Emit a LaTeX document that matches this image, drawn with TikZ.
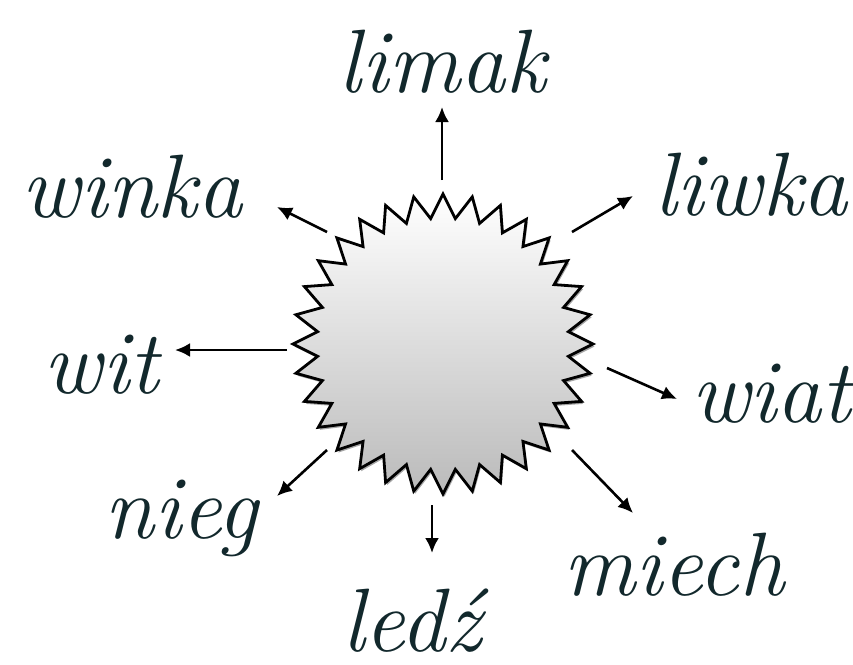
\documentclass[tikz,border=0pt]{standalone}
\usetikzlibrary{arrows.meta,shadows,calc}
\definecolor{ink}{RGB}{18,40,44}
\begin{document}
\begin{tikzpicture}[x=1pt,y=-1pt,
  word/.style={anchor=base,text=ink,inner sep=0pt,font=\fontsize{90}{90}\selectfont\itshape},
  arr/.style={line width=2.6pt,-{Latex[length=15pt,width=14pt]}},
  sunshape/.style={draw=black,line width=2.8pt,line join=miter,top color=white,bottom color=black!27,
    drop shadow={shadow xshift=1.5pt,shadow yshift=-2.5pt,opacity=0.35,fill=black}}]
\useasboundingbox (0,0) rectangle (853,664);
% starburst
\coordinate (c) at (443,344);
\path[sunshape] ($(c)+(90:150)$)
  \foreach \i in {1,...,63}{
    -- ($(c)+({90+\i*5.625}:{150-24*mod(\i,2)})$)
  } -- cycle;
% words
\node[word] (limak) at (442,92) {limak};
\node[word] (liwka) at (751,215) {liwka};
\node[word] (winka) at (132,217) {winka};
\node[word] (wit) at (101,393) {wit};
\node[word] (wiat) at (771,422) {wiat};
\node[word] (nieg) at (181,538) {nieg};
\node[word] (miech) at (674,595) {miech};
\node[word,text depth=0pt] (ledz) at (412,651) {ledź};
% arrow ends
\coordinate (s1) at (442,180); \coordinate (e1) at (442,107);
\coordinate (s2) at (327,232); \coordinate (e2) at (277,207);
\coordinate (s3) at (572,232); \coordinate (e3) at (633,196);
\coordinate (s4) at (287,350); \coordinate (e4) at (175,350);
\coordinate (s5) at (607,368); \coordinate (e5) at (677,399);
\coordinate (s6) at (327,450); \coordinate (e6) at (277,496);
\coordinate (s7) at (432,505); \coordinate (e7) at (432,553);
\coordinate (s8) at (572,450); \coordinate (e8) at (633,513);
\foreach \k in {1,...,8}{\draw[arr] (s\k) -- (e\k);}
\end{tikzpicture}
\end{document}
